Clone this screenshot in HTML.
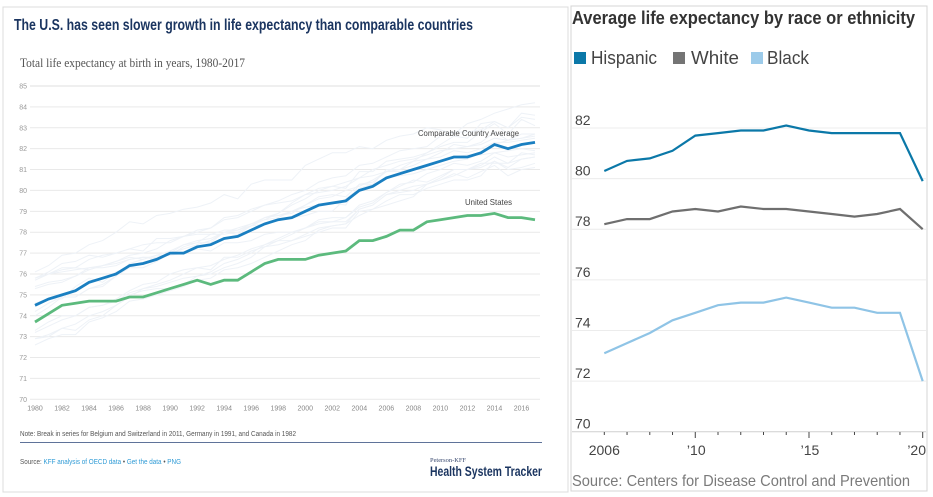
<!DOCTYPE html>
<html lang="en">
<head>
<meta charset="utf-8">
<title>Life expectancy charts</title>
<style>
html,body{margin:0;padding:0;background:#fff;width:933px;height:497px;overflow:hidden}
svg{display:block}
text{font-family:"Liberation Sans",sans-serif}
</style>
</head>
<body>
<svg id="root" xmlns="http://www.w3.org/2000/svg" width="933" height="497" viewBox="0 0 933 497">
  <g id="left-panel">
    <rect x="3" y="7" width="565" height="485" fill="#fff" stroke="#dcdcdc" stroke-width="1"/>
    <text x="14" y="30" font-size="15.5" font-weight="700" fill="#1b3560" textLength="459" lengthAdjust="spacingAndGlyphs">The U.S. has seen slower growth in life expectancy than comparable countries</text>
    <text x="20" y="67" font-size="12.5" fill="#555" style="font-family:'Liberation Serif',serif" textLength="225" lengthAdjust="spacingAndGlyphs">Total life expectancy at birth in years, 1980-2017</text>
    <g id="left-grid"></g>
    <g id="left-peers"></g>
    <g id="left-main"></g>
    <g id="left-yticks"></g>
    <g id="left-xticks"></g>
    <text x="418" y="136" font-size="8.5" fill="#444" textLength="101" lengthAdjust="spacingAndGlyphs">Comparable Country Average</text>
    <text x="465" y="205" font-size="8.5" fill="#444" textLength="47" lengthAdjust="spacingAndGlyphs">United States</text>
    <text x="20" y="436" font-size="7" fill="#555" textLength="276" lengthAdjust="spacingAndGlyphs">Note: Break in series for Belgium and Switzerland in 2011, Germany in 1991, and Canada in 1982</text>
    <line x1="20" y1="442.5" x2="542" y2="442.5" stroke="#5f7399" stroke-width="1"/>
    <text x="20" y="464" font-size="7" fill="#555" textLength="161" lengthAdjust="spacingAndGlyphs">Source: <tspan fill="#2f9bd6">KFF analysis of OECD data</tspan> • <tspan fill="#2f9bd6">Get the data</tspan> • <tspan fill="#2f9bd6">PNG</tspan></text>
    <text x="430" y="462" font-size="6" fill="#3a4a70" style="font-family:'Liberation Serif',serif" textLength="36" lengthAdjust="spacingAndGlyphs">Peterson-KFF</text>
    <text x="430" y="476" font-size="13.5" font-weight="700" fill="#1b3560" textLength="112" lengthAdjust="spacingAndGlyphs">Health System Tracker</text>
  </g>

  <g id="right-panel">
    <rect x="571" y="6" width="356" height="485" fill="#fff" stroke="#d4d4d4" stroke-width="1"/>
    <text x="572" y="24" font-size="18" font-weight="700" fill="#333" textLength="343" lengthAdjust="spacingAndGlyphs">Average life expectancy by race or ethnicity</text>
    <g>
      <g>
        <rect x="574" y="52" width="12" height="12" fill="#0b78a8"/>
        <text x="591" y="64" font-size="18" fill="#444" textLength="66" lengthAdjust="spacingAndGlyphs">Hispanic</text>
      </g>
      <g>
        <rect x="673" y="52" width="12" height="12" fill="#747474"/>
        <text x="691" y="64" font-size="18" fill="#444" textLength="48" lengthAdjust="spacingAndGlyphs">White</text>
      </g>
      <g>
        <rect x="751" y="52" width="12" height="12" fill="#9ccbea"/>
        <text x="767" y="64" font-size="18" fill="#444" textLength="42" lengthAdjust="spacingAndGlyphs">Black</text>
      </g>
    </g>
    <g id="right-grid"></g>
    <g id="right-ticks"></g>
    <g id="right-series"></g>
    <text x="572" y="486" font-size="16" fill="#7a7a7a" textLength="338" lengthAdjust="spacingAndGlyphs">Source: Centers for Disease Control and Prevention</text>
  </g>
</svg>

<script>
// ---- Left chart data ----
const leftYears = [1980,1981,1982,1983,1984,1985,1986,1987,1988,1989,1990,1991,1992,1993,1994,1995,1996,1997,1998,1999,2000,2001,2002,2003,2004,2005,2006,2007,2008,2009,2010,2011,2012,2013,2014,2015,2016,2017];
const leftYTicks = [70,71,72,73,74,75,76,77,78,79,80,81,82,83,84,85];
const leftXTicks = [1980,1982,1984,1986,1988,1990,1992,1994,1996,1998,2000,2002,2004,2006,2008,2010,2012,2014,2016];
const comparableAverage = [74.5,74.8,75.0,75.2,75.6,75.8,76.0,76.4,76.5,76.7,77.0,77.0,77.3,77.4,77.7,77.8,78.1,78.4,78.6,78.7,79.0,79.3,79.4,79.5,80.0,80.2,80.6,80.8,81.0,81.2,81.4,81.6,81.6,81.8,82.2,82.0,82.2,82.3];
const unitedStates = [73.7,74.1,74.5,74.6,74.7,74.7,74.7,74.9,74.9,75.1,75.3,75.5,75.7,75.5,75.7,75.7,76.1,76.5,76.7,76.7,76.7,76.9,77.0,77.1,77.6,77.6,77.8,78.1,78.1,78.5,78.6,78.7,78.8,78.8,78.9,78.7,78.7,78.6];
const peerJapan = [76.1,76.4,76.9,77.0,77.4,77.6,78.0,78.5,78.4,78.8,78.9,79.1,79.2,79.4,79.8,79.6,80.3,80.5,80.5,80.5,81.2,81.5,81.8,81.8,82.1,82.0,82.4,82.6,82.7,83.0,82.9,82.7,83.2,83.4,83.7,83.9,84.1,84.2];
const peerSwitzerland = [75.7,76.0,76.3,76.3,76.7,76.9,77.0,77.2,77.4,77.5,77.5,77.8,78.0,78.2,78.6,78.7,79.0,79.3,79.5,79.8,80.0,80.4,80.6,80.7,81.2,81.3,81.6,81.9,82.0,82.1,82.6,82.8,82.8,82.9,83.3,83.0,83.7,83.6];
const peerSweden = [75.8,76.1,76.5,76.6,76.9,76.8,77.0,77.2,77.1,77.7,77.7,77.8,78.1,78.2,78.7,78.8,79.1,79.3,79.4,79.5,79.8,79.9,80.0,80.2,80.6,80.7,80.9,81.0,81.2,81.5,81.6,81.9,81.8,82.0,82.3,82.3,82.4,82.5];
const peerSpain = [75.4,75.6,75.7,75.9,76.2,76.4,76.6,76.8,76.7,76.9,76.9,77.0,77.4,77.6,78.0,78.1,78.3,78.7,78.8,78.9,79.3,79.7,79.8,79.7,80.3,80.3,81.0,81.0,81.4,81.8,82.2,82.6,82.5,83.2,83.3,83.0,83.5,83.4];
const peerCanada = [75.3,75.5,75.6,75.9,76.3,76.4,76.6,76.9,77.0,77.2,77.6,77.8,77.9,77.9,78.1,78.1,78.4,78.6,78.7,79.0,79.3,79.6,79.7,80.0,80.2,80.5,80.9,80.9,81.0,81.2,81.4,81.6,81.7,81.7,81.8,81.9,82.0,81.9];
const peerAustralia = [74.6,74.8,74.8,75.4,75.8,75.6,76.1,76.3,76.3,76.6,77.0,77.4,77.5,77.9,77.9,78.0,78.3,78.6,78.9,79.3,79.6,80.0,80.2,80.4,80.6,81.0,81.2,81.4,81.5,81.7,81.9,82.0,82.1,82.2,82.5,82.4,82.5,82.6];
const peerNetherlands = [75.7,76.0,76.1,76.2,76.3,76.3,76.4,76.7,76.8,76.7,77.0,77.0,77.2,77.1,77.5,77.5,77.6,77.9,78.0,78.0,78.2,78.4,78.5,78.7,79.3,79.5,79.9,80.3,80.4,80.8,81.0,81.3,81.2,81.4,81.8,81.6,81.7,81.8];
const peerFrance = [74.2,74.6,74.9,74.9,75.3,75.4,75.9,76.5,76.7,76.9,77.1,77.4,77.6,77.7,78.0,78.1,78.3,78.7,78.8,79.0,79.2,79.3,79.4,79.3,80.3,80.4,80.9,81.2,81.4,81.5,81.8,82.2,82.1,82.3,82.8,82.4,82.7,82.7];
const peerItaly = [74.0,74.4,74.9,74.9,75.3,75.5,75.9,76.3,76.5,76.8,77.0,77.2,77.4,77.6,78.0,78.2,78.4,78.7,78.9,79.4,79.8,80.1,80.2,80.1,80.9,80.9,81.4,81.5,81.6,81.8,82.1,82.3,82.3,82.8,83.2,82.7,83.4,83.1];
const peerAustria = [72.9,73.0,73.4,73.3,73.8,74.0,74.5,74.9,75.3,75.4,75.6,75.8,75.9,76.1,76.5,76.7,77.0,77.4,77.7,78.0,78.2,78.6,78.7,78.7,79.2,79.4,79.9,80.2,80.5,80.4,80.7,81.0,81.0,81.2,81.6,81.3,81.8,81.7];
const peerGermany = [72.9,73.1,73.4,73.6,74.0,74.2,74.5,75.0,75.2,75.3,75.3,75.5,75.9,76.0,76.3,76.5,76.8,77.3,77.6,77.9,78.2,78.5,78.5,78.5,79.1,79.3,79.8,80.0,80.2,80.3,80.5,80.8,80.6,80.9,81.2,80.7,81.0,81.1];
const peerBelgium = [73.3,73.7,74.0,74.0,74.4,74.5,74.8,75.2,75.5,75.6,76.0,76.2,76.3,76.4,76.7,76.9,77.2,77.4,77.6,77.6,77.8,78.0,78.2,78.2,79.0,79.1,79.5,79.8,79.8,80.1,80.3,80.5,80.5,80.7,81.4,81.1,81.5,81.6];
const peerUK = [73.2,73.5,73.8,74.0,74.4,74.5,74.7,75.1,75.3,75.5,75.7,76.0,76.3,76.2,76.8,76.8,77.1,77.3,77.4,77.6,77.9,78.2,78.3,78.4,78.8,79.1,79.3,79.5,79.7,80.3,80.6,81.0,81.0,81.1,81.4,81.0,81.1,81.3];
const peerPortugal = [72.6,72.9,73.1,73.1,73.7,73.9,74.2,74.7,74.8,75.0,75.2,75.4,75.7,75.8,76.2,76.3,76.5,76.8,77.1,77.4,77.6,78.1,78.3,78.4,79.1,79.3,79.8,79.9,80.0,80.3,80.5,80.7,81.0,81.3,81.3,81.3,81.5,81.6];
const peerNorway = [75.8,76.0,76.2,76.3,76.2,76.4,76.5,76.7,76.8,76.8,76.9,77.3,77.5,77.5,78.0,77.9,78.3,78.4,78.6,78.7,78.8,79.0,79.0,79.6,80.1,80.3,80.6,80.7,80.8,81.0,81.2,81.4,81.5,81.8,82.2,82.4,82.5,82.7];
const peerSeries = [peerJapan,peerSwitzerland,peerSweden,peerSpain,peerCanada,peerAustralia,peerNetherlands,peerFrance,peerItaly,peerAustria,peerGermany,peerBelgium,peerUK,peerPortugal,peerNorway];

// ---- Right chart data ----
const rightYears = [2006,2007,2008,2009,2010,2011,2012,2013,2014,2015,2016,2017,2018,2019,2020];
const rightYTicks = [70,72,74,76,78,80,82];
const rightXLabels = ["2006","’10","’15","’20"];
const rightXLabelYears = [2006,2010,2015,2020];
const hispanicValues = [80.3,80.7,80.8,81.1,81.7,81.8,81.9,81.9,82.1,81.9,81.8,81.8,81.8,81.8,79.9];
const whiteValues = [78.2,78.4,78.4,78.7,78.8,78.7,78.9,78.8,78.8,78.7,78.6,78.5,78.6,78.8,78.0];
const blackValues = [73.1,73.5,73.9,74.4,74.7,75.0,75.1,75.1,75.3,75.1,74.9,74.9,74.7,74.7,72.0];

const NS = 'http://www.w3.org/2000/svg';
function lx(year){ return 35 + (year - 1980) * (500 / 37); }
function ly(v){ return 399.3 - (v - 70) * (313.3 / 15); }
function rx(year){ return 604.3 + (year - 2006) * (318.4 / 14); }
function ry(v){ return 431.7 - (v - 70) * (303.7 / 12); }
function pts(xs, ys, fx, fy){ return xs.map(function(x, i){ return fx(x).toFixed(1) + ',' + fy(ys[i]).toFixed(1); }).join(' '); }

const leftGrid = document.getElementById('left-grid');
const leftYT = document.getElementById('left-yticks');
leftYTicks.forEach(function(t){
  const g = document.createElementNS(NS, 'line');
  
  
  g.setAttribute('x1', 30); g.setAttribute('x2', 540);
  g.setAttribute('y1', ly(t)); g.setAttribute('y2', ly(t));
  g.setAttribute('stroke', t === 85 ? '#dfdfdf' : '#e9e9e9');
  g.setAttribute('stroke-width', '1');
  leftGrid.appendChild(g);
  const l = document.createElementNS(NS, 'text');
  
  
  l.setAttribute('x', 27); l.setAttribute('y', ly(t) + 2.5);
  l.setAttribute('text-anchor', 'end');
  l.setAttribute('font-size', '7');
  l.setAttribute('fill', '#999');
  l.textContent = t;
  leftYT.appendChild(l);
});

const leftXT = document.getElementById('left-xticks');
leftXTicks.forEach(function(t){
  const l = document.createElementNS(NS, 'text');
  
  
  l.setAttribute('x', lx(t)); l.setAttribute('y', 410.5);
  l.setAttribute('text-anchor', 'middle');
  l.setAttribute('font-size', '7');
  l.setAttribute('fill', '#888');
  l.textContent = t;
  leftXT.appendChild(l);
});

const leftPeers = document.getElementById('left-peers');
peerSeries.forEach(function(s){
  const p = document.createElementNS(NS, 'polyline');
  
  
  p.setAttribute('points', pts(leftYears, s, lx, ly));
  p.setAttribute('fill', 'none');
  p.setAttribute('stroke', '#eef2f7');
  p.setAttribute('stroke-width', '1');
  leftPeers.appendChild(p);
});

const leftMain = document.getElementById('left-main');
const avgLine = document.createElementNS(NS, 'polyline');


avgLine.setAttribute('points', pts(leftYears, comparableAverage, lx, ly));
avgLine.setAttribute('fill', 'none');
avgLine.setAttribute('stroke', '#1a7fc1');
avgLine.setAttribute('stroke-width', '2.8');
leftMain.appendChild(avgLine);
const usLine = document.createElementNS(NS, 'polyline');


usLine.setAttribute('points', pts(leftYears, unitedStates, lx, ly));
usLine.setAttribute('fill', 'none');
usLine.setAttribute('stroke', '#5cba7d');
usLine.setAttribute('stroke-width', '2.8');
leftMain.appendChild(usLine);

const rightGrid = document.getElementById('right-grid');
rightYTicks.forEach(function(t){
  const g = document.createElementNS(NS, 'line');
  
  
  g.setAttribute('x1', 572); g.setAttribute('x2', 926);
  g.setAttribute('y1', ry(t)); g.setAttribute('y2', ry(t));
  g.setAttribute('stroke', t === 70 ? '#cfcfcf' : '#ececec');
  g.setAttribute('stroke-width', '1');
  rightGrid.appendChild(g);
  const l = document.createElementNS(NS, 'text');
  
  
  l.setAttribute('x', 575); l.setAttribute('y', ry(t) - 3);
  l.setAttribute('font-size', '14');
  l.setAttribute('fill', '#444');
  l.textContent = t;
  rightGrid.appendChild(l);
});

const rightTicks = document.getElementById('right-ticks');
rightYears.forEach(function(y){
  const major = rightXLabelYears.indexOf(y) >= 0 && y !== 2006;
  const t = document.createElementNS(NS, 'line');
  
  
  t.setAttribute('x1', rx(y)); t.setAttribute('x2', rx(y));
  t.setAttribute('y1', 432); t.setAttribute('y2', major ? 438 : 435);
  t.setAttribute('stroke', '#444');
  t.setAttribute('stroke-width', '1');
  rightTicks.appendChild(t);
});
rightXLabels.forEach(function(lab, i){
  const y = rightXLabelYears[i];
  const l = document.createElementNS(NS, 'text');
  
  
  l.setAttribute('x', i === 3 ? 926 : rx(y) + (i === 0 ? 0 : 1));
  l.setAttribute('y', 455);
  l.setAttribute('text-anchor', i === 3 ? 'end' : 'middle');
  l.setAttribute('font-size', '14');
  l.setAttribute('fill', '#444');
  l.textContent = lab;
  rightTicks.appendChild(l);
});

const rightSeries = document.getElementById('right-series');
const hispanicLine = document.createElementNS(NS, 'polyline');


hispanicLine.setAttribute('points', pts(rightYears, hispanicValues, rx, ry));
hispanicLine.setAttribute('fill', 'none');
hispanicLine.setAttribute('stroke', '#0b78a8');
hispanicLine.setAttribute('stroke-width', '2.2');
rightSeries.appendChild(hispanicLine);
const whiteLine = document.createElementNS(NS, 'polyline');


whiteLine.setAttribute('points', pts(rightYears, whiteValues, rx, ry));
whiteLine.setAttribute('fill', 'none');
whiteLine.setAttribute('stroke', '#6f6f6f');
whiteLine.setAttribute('stroke-width', '2.2');
rightSeries.appendChild(whiteLine);
const blackLine = document.createElementNS(NS, 'polyline');


blackLine.setAttribute('points', pts(rightYears, blackValues, rx, ry));
blackLine.setAttribute('fill', 'none');
blackLine.setAttribute('stroke', '#8fc4e6');
blackLine.setAttribute('stroke-width', '2.2');
rightSeries.appendChild(blackLine);
</script>
</body>
</html>
